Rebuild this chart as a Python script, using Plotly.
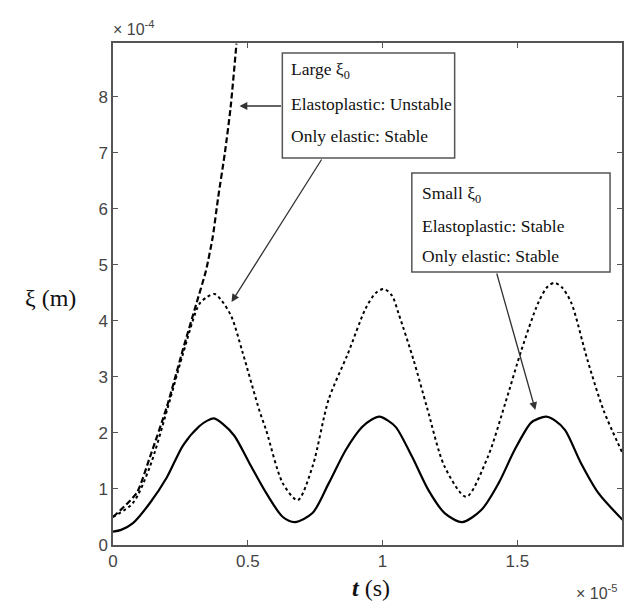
import plotly.graph_objects as go

# time in units of 1e-5 s, displacement xi in units of 1e-4 m
t_solid = [0, 0.03, 0.074, 0.137, 0.2, 0.26, 0.32, 0.35, 0.375, 0.405, 0.45, 0.506, 0.568, 0.63, 0.675,
           0.74, 0.80, 0.864, 0.923, 0.96, 0.988, 1.02, 1.05, 1.11, 1.17, 1.23, 1.295, 1.367, 1.43,
           1.49, 1.55, 1.58, 1.607, 1.64, 1.677, 1.736, 1.80, 1.89]
xi_solid = [0.24, 0.27, 0.39, 0.75, 1.21, 1.78, 2.12, 2.22, 2.26, 2.17, 1.95, 1.46, 0.93, 0.5, 0.41,
            0.57, 1.1, 1.7, 2.1, 2.24, 2.29, 2.22, 2.1, 1.57, 0.98, 0.57, 0.41, 0.63, 1.1,
            1.7, 2.18, 2.26, 2.29, 2.22, 2.05, 1.46, 0.93, 0.45]

t_dot = [0, 0.074, 0.137, 0.2, 0.26, 0.32, 0.35, 0.377, 0.405, 0.44, 0.48, 0.543, 0.568, 0.63, 0.685,
         0.74, 0.80, 0.87, 0.938, 0.975, 1.005, 1.035, 1.06, 1.115, 1.165, 1.23, 1.31,
         1.39, 1.455, 1.515, 1.577, 1.61, 1.636, 1.665, 1.70, 1.76, 1.82, 1.89]
xi_dot = [0.5, 0.75, 1.4, 2.4, 3.42, 4.3, 4.43, 4.48, 4.35, 4.07, 3.45, 2.4, 2.05, 1.1, 0.8,
          1.4, 2.6, 3.4, 4.23, 4.5, 4.57, 4.45, 4.12, 3.3, 2.45, 1.4, 0.86,
          1.57, 2.53, 3.48, 4.32, 4.6, 4.68, 4.6, 4.32, 3.3, 2.4, 1.64]

t_dash = [0, 0.088, 0.137, 0.2, 0.26, 0.31, 0.345, 0.37, 0.39, 0.415, 0.436, 0.458]
xi_dash = [0.5, 0.93, 1.57, 2.47, 3.5, 4.32, 4.9, 5.5, 6.2, 7.0, 7.8, 8.95]

x_ticks = [0, 0.5, 1, 1.5]
x_ticklabels = ["0", "0.5", "1", "1.5"]
y_ticks = [0, 1, 2, 3, 4, 5, 6, 7, 8]
y_ticklabels = ["0", "1", "2", "3", "4", "5", "6", "7", "8"]

box1_lines = ["Large ξ<sub>0</sub>", "Elastoplastic: Unstable", "Only elastic: Stable"]
box2_lines = ["Small ξ<sub>0</sub>", "Elastoplastic: Stable", "Only elastic: Stable"]

OFF = 8  # page body margin
W, H = 632 - OFF, 608 - OFF
L, R, T, B = 113, 624, 43, 545  # plot area in page pixels


def PX(x):
    return (x - L) / (R - L)


def PY(y):
    return (B - y) / (B - T)


fig = go.Figure()
fig.add_trace(go.Scatter(x=t_solid, y=xi_solid, mode="lines",
                         line=dict(color="black", width=2.2, shape="spline", smoothing=0.8),
                         showlegend=False))
fig.add_trace(go.Scatter(x=t_dot, y=xi_dot, mode="lines",
                         line=dict(color="black", width=2, dash="dot", shape="spline", smoothing=0.8),
                         showlegend=False))
fig.add_trace(go.Scatter(x=t_dash, y=xi_dash, mode="lines",
                         line=dict(color="black", width=2.2, dash="6px,3px", shape="spline", smoothing=0.6),
                         showlegend=False))

axis_common = dict(showline=True, linecolor="#555", linewidth=1.5, mirror="ticks", ticks="inside",
                   ticklen=5, tickcolor="#555", showgrid=False, zeroline=False,
                   tickfont=dict(family="Liberation Sans, Arial", size=17, color="#444"))
fig.update_xaxes(range=[0, 1.888], tickvals=x_ticks, ticktext=x_ticklabels, **axis_common)
fig.update_yaxes(range=[0, 8.96], tickvals=y_ticks, ticktext=y_ticklabels, **axis_common)

serif = dict(family="Liberation Serif, Times New Roman", size=17.5, color="#111")
ann = []
shapes = []
# box 1
shapes.append(dict(type="rect", xref="paper", yref="paper", x0=PX(283), x1=PX(456), y0=PY(158), y1=PY(53),
                   line=dict(color="#555", width=1.5), fillcolor="white", layer="above"))
for line_txt, yc in zip(box1_lines, [71, 104, 136]):
    ann.append(dict(text=line_txt, xref="paper", yref="paper", x=PX(290), y=PY(yc), xanchor="left",
                    yanchor="middle", showarrow=False, font=serif))
# box 2
shapes.append(dict(type="rect", xref="paper", yref="paper", x0=PX(413), x1=PX(612), y0=PY(272), y1=PY(173),
                   line=dict(color="#555", width=1.5), fillcolor="white", layer="above"))
for line_txt, yc in zip(box2_lines, [195, 226, 256]):
    ann.append(dict(text=line_txt, xref="paper", yref="paper", x=PX(421), y=PY(yc), xanchor="left",
                    yanchor="middle", showarrow=False, font=serif))

arrow_style = dict(text="", xref="paper", yref="paper", showarrow=True, arrowhead=2, arrowsize=1.2,
                   arrowwidth=1.3, arrowcolor="#333", standoff=0, startstandoff=0)
ann.append(dict(x=PX(240), y=PY(106), ax=43, ay=0, **arrow_style))
ann.append(dict(x=PX(232), y=PY(302), ax=91, ay=-144, **arrow_style))
ann.append(dict(x=PX(537), y=PY(410), ax=-39, ay=-138, **arrow_style))

# axis labels
ann.append(dict(text="ξ (m)", xref="paper", yref="paper", x=PX(50), y=PY(298), xanchor="center",
                yanchor="middle", showarrow=False,
                font=dict(family="Liberation Serif, Times New Roman", size=24, color="#111")))
ann.append(dict(text="<b><i>t</i></b> (s)", xref="paper", yref="paper", x=PX(372), y=PY(588), xanchor="center",
                yanchor="middle", showarrow=False,
                font=dict(family="Liberation Serif, Times New Roman", size=24, color="#111")))
ann.append(dict(text="× 10<sup>-4</sup>", xref="paper", yref="paper", x=PX(111), y=PY(28), xanchor="left",
                yanchor="middle", showarrow=False,
                font=dict(family="Liberation Sans, Arial", size=16, color="#444")))
ann.append(dict(text="× 10<sup>-5</sup>", xref="paper", yref="paper", x=PX(576), y=PY(592), xanchor="left",
                yanchor="middle", showarrow=False,
                font=dict(family="Liberation Sans, Arial", size=16, color="#444")))

fig.update_layout(width=W, height=H,
                  margin=dict(l=L - OFF, r=(632 - R), t=T - OFF, b=(608 - B)),
                  plot_bgcolor="white", paper_bgcolor="white", annotations=ann, shapes=shapes)

fig.write_html("out.html")
